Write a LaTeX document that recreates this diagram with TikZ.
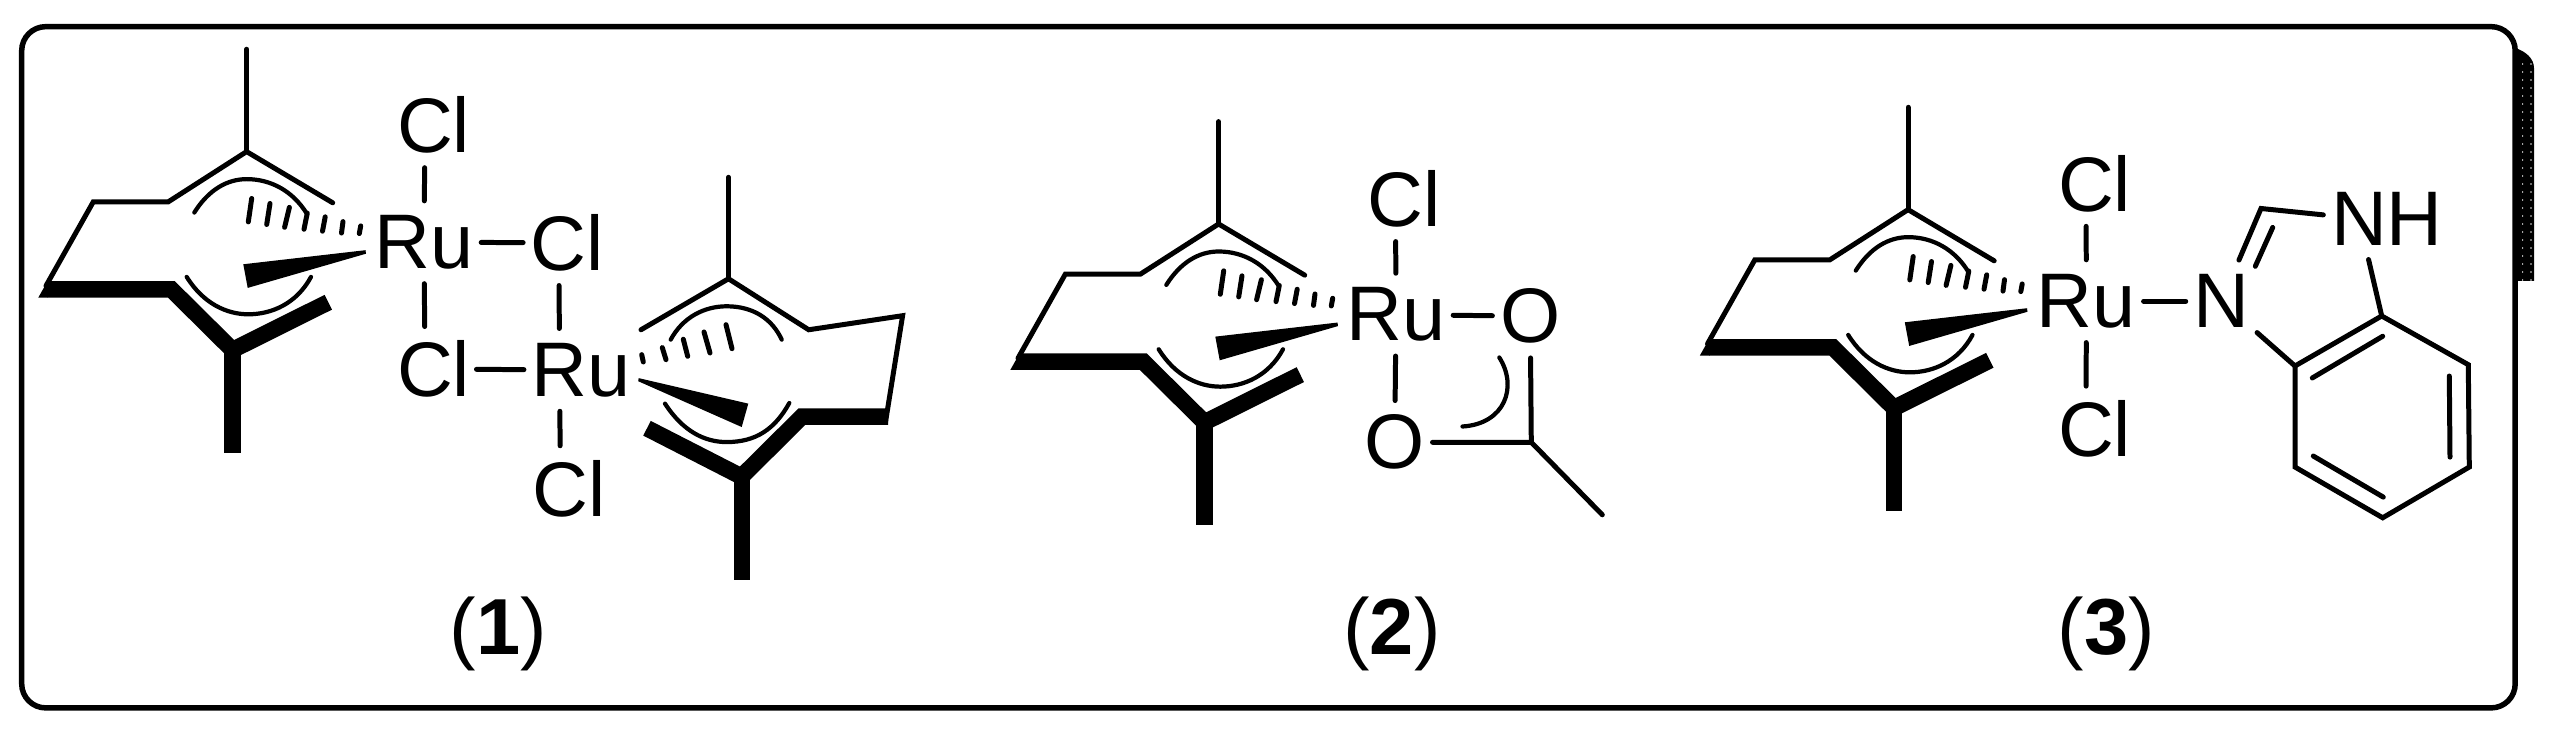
\documentclass[tikz,border=0pt]{standalone}
\usepackage{fontspec}
\setmainfont{Liberation Sans}
\tikzset{
	bond/.style={line width=1.42pt, line cap=round},
	heavy/.style={line width=4.7pt},
	arcline/.style={line width=1.2pt, line cap=round},
	hash/.style={line width=1.42pt, line cap=round},
	atom/.style={inner xsep=2pt, inner ysep=3.9pt, font=\fontsize{22}{26}\selectfont},
	tag/.style={inner sep=0pt, font=\fontsize{22.6}{27}\selectfont},
}
\def\Cl{C\rlap{l}}
% one allyl fragment, drawn at the place of the first one and then shifted
\newcommand{\cymene}[1]{%
	\begin{scope}[shift={(#1)}]
		\draw[bond] (332.7,230.6)--(246.6,172.4)--(168.3,229.5)--(93.3,229.5)--(46,325);
		\draw[bond] (246.6,172.4)--(246.6,56);
		\draw[heavy] (47.7,329)--(171.3,329)--(232.5,398)--(328.3,343.7);
		\draw[heavy] (232.5,390)--(232.5,515);
		\fill (47.7,319.5)--(38.3,338.4)--(48,338.4)--cycle;
		\draw[arcline] (194.3,241.7) .. controls (208.3,216.3) and (226.7,203.7) .. (246.7,203.7) .. controls (271.7,203.7) and (293.3,218.1) .. (306.7,242.8);
		\draw[arcline] (186.7,314.9) .. controls (203.3,345.2) and (226.7,357.4) .. (248.3,357.4) .. controls (271.7,357.4) and (296.7,345.2) .. (311,314.9);
		\foreach \xa/\ya/\xb/\yb in {251.7/225.7/248.3/252.3, 270/231.4/266.7/255.3, 289.4/235.8/284.6/258.5, 307.3/242.3/304/260.7, 325.2/246.6/322.5/262.9, 343/252/341.5/265, 360.7/256.9/359.3/265.6}
			\draw[hash] (\xa,\ya)--(\xb,\yb);
		\fill (243.3,300.5)--(247.7,327.4)--(366,288.5)--(365.5,284.5)--cycle;
	\end{scope}}
\begin{document}
\begin{tikzpicture}[x=0.01cm,y=-0.008786cm,line join=miter]
	\useasboundingbox (0,0) rectangle (2550,848);
	% frame and the dark strip at its right
	\fill (2515,54.6) .. controls (2525,58) and (2534,66) .. (2534,77.4)--(2534,319.5)--(2515,319.5)--cycle;
	\foreach \y in {0,...,27}
		\fill[white] (2522,72+9.1*\y) rectangle +(1.2,1.4) (2530.4,72+9.1*\y) rectangle +(1.2,1.4);
	\draw[line width=1.56pt,rounded corners=0.24cm] (21.7,30.3) rectangle (2515.2,805);
	% compound 1
	\cymene{0,0}
	\node[atom] (ruA) at (424,275.5) {Ru};
	\node[atom] (clA) at (425,142) {\Cl};
	\node[atom] (clB) at (558.8,276) {\Cl};
	\node[atom] (clC) at (425,420) {\Cl};
	\node[atom] (ruB) at (559.6,420.6) {R\rlap{u}};
	\node[atom] (clD) at (560.4,555.6) {\Cl};
	\draw[bond] (ruA)--(clA);
	\draw[bond] (ruA)--(clB);
	\draw[bond] (ruA)--(clC);
	\draw[bond] (clB)--(ruB);
	\draw[bond] ([xshift=4.5pt]clC.east)--(ruB);
	\draw[bond] (ruB)--(clD);
	\draw[bond] (641,375)--(728.5,317)--(808.7,375)--(902.6,359)--(885.5,480);
	\draw[bond] (728.5,317)--(728.5,201.6);
	\draw[heavy] (647,487)--(741.5,542)--(802,473.7)--(888,473.7);
	\draw[heavy] (742,534)--(742,660);
	\draw[arcline] (670.7,386.2) .. controls (683,360.4) and (704.6,348.3) .. (726.7,348.3) .. controls (753.4,348.3) and (772.4,363) .. (781.7,386.2);
	\draw[arcline] (665,459) .. controls (683,490.5) and (704.6,502.7) .. (726.7,502.7) .. controls (756,502.7) and (775,487.8) .. (789.3,458.3);
	\foreach \xa/\ya/\xb/\yb in {726/369.2/732/396.5, 704/377.5/710/401.4, 683.3/385.8/687.7/405.2, 662.3/395.3/666/409, 641.7/403.3/643.3/411.6}
		\draw[hash] (\xa,\ya)--(\xb,\yb);
	\fill (638.7,430)--(748.3,459)--(741.7,485.6)--(638.2,433.5)--cycle;
	\node[tag] (tagA) at (498.3,720.7) {(\textbf{1})};
	% compound 2
	\cymene{972,82.3}
	\node[atom] (ruC) at (1396,357.8) {Ru};
	\node[atom] (clE) at (1395.5,226) {\Cl};
	\node[atom] (oA) at (1530.2,359.5) {O};
	\node[atom] (oB) at (1394.7,503) {O};
	\coordinate (cA) at (1531.3,503);
	\coordinate (meA) at (1602.3,585.4);
	\draw[bond] (ruC)--(clE);
	\draw[bond] (ruC)--(oA);
	\draw[bond] (ruC)--(oB);
	\draw[bond] (oA)--(cA);
	\draw[bond] (oB)--(cA)--(meA);
	\draw[arcline] (1499.3,406.5) .. controls (1518,440) and (1505,482) .. (1462.5,485);
	\node[tag] (tagB) at (1392,720.7) {(\textbf{2})};
	% compound 3
	\cymene{1661.5,66}
	\node[atom] (ruD) at (2086.4,342.5) {Ru};
	\node[atom] (clF) at (2086,208.7) {\Cl};
	\node[atom] (clG) at (2086,487.8) {\Cl};
	\node[atom] (nA) at (2221.4,342.5) {N};
	\node[atom] (nB) at (2359,248.5) {N\rlap{H}};
	\coordinate (cB) at (2261,237.1);
	\coordinate (cC) at (2295,416.2);
	\coordinate (cD) at (2381.7,359.3);
	\coordinate (cE) at (2468.3,414.7);
	\coordinate (cF) at (2469.3,531.1);
	\coordinate (cG) at (2382.7,588.8);
	\coordinate (cH) at (2295,531.1);
	\draw[bond] (ruD)--(clF);
	\draw[bond] (ruD)--(clG);
	\draw[bond] (ruD)--(nA);
	\draw[bond] (nA)--(cB)--(nB);
	\draw[bond] (nA)--(cC);
	\draw[bond] (nB)--(cD);
	\draw[bond] (cC)--(cD)--(cE)--(cF)--(cG)--(cH)--cycle;
	\draw[bond] (2272.7,258.7)--(2255.3,302.8);
	\draw[bond] (2312.3,429.8)--(2382.7,382.4);
	\draw[bond] (2449.3,427.6)--(2450,519.8);
	\draw[bond] (2313.3,518.6)--(2383.3,565.3);
	\node[tag] (tagC) at (2106.5,720.7) {(\textbf{3})};
\end{tikzpicture}
\end{document}
